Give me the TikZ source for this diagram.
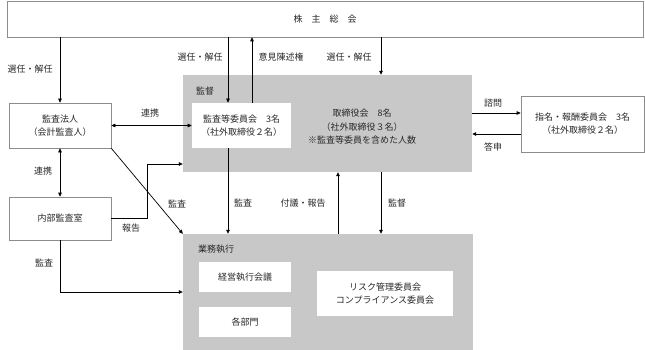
\documentclass[tikz,border=0pt]{standalone}
\usepackage{fontspec}
\setmainfont{Noto Sans CJK JP}
\usetikzlibrary{arrows.meta}
\definecolor{boxgray}{RGB}{200,200,200}
\definecolor{edgegray}{RGB}{140,140,140}
\definecolor{txt}{RGB}{40,40,40}
\tikzset{
  wbox/.style={draw=edgegray, line width=0.7pt, fill=white, inner sep=0pt, align=center, text=txt, font=\fontsize{9}{13}\selectfont},
  gbox/.style={fill=boxgray, draw=none, inner sep=0pt},
  lbl/.style={text=txt, font=\fontsize{9}{13}\selectfont, inner sep=0pt},
  arr/.style={draw=black, line width=0.7pt, -{Triangle[length=4pt,width=3.6pt]}},
  darr/.style={draw=black, line width=0.7pt, {Triangle[length=4pt,width=3.6pt]}-{Triangle[length=4pt,width=3.6pt]}},
  ln/.style={draw=black, line width=0.7pt}
}
\begin{document}
\begin{tikzpicture}[x=1pt,y=-1pt]
\useasboundingbox (0,0) rectangle (645,350);
% gray areas
\node[gbox, minimum width=289pt, minimum height=97pt] (board) at (327.5,123.5) {};
\node[gbox, minimum width=290pt, minimum height=116pt] (gyomu) at (328,292) {};
% boxes
\node[wbox, minimum width=636pt, minimum height=36pt] (top) at (325,19) {株　主　総　会};
\node[wbox, minimum width=102pt, minimum height=45pt] (hojin) at (60,125.5) {監査法人\\（会計監査人）};
\node[wbox, minimum width=102pt, minimum height=43pt] (naibu) at (60,218.5) {内部監査室};
\node[wbox, draw=none, minimum width=99pt, minimum height=45pt] (kansa) at (241.5,125.5) {監査等委員会　3名\\（社外取締役２名）};
\node[wbox, minimum width=123pt, minimum height=56pt] (shimei) at (582.5,124) {指名・報酬委員会　3名\\（社外取締役２名）};
\node[wbox, draw=none, minimum width=92pt, minimum height=30pt] (keiei) at (245,277) {経営執行会議};
\node[wbox, draw=none, minimum width=92pt, minimum height=30pt] (kakubu) at (245,322) {各部門};
\node[wbox, draw=none, minimum width=136pt, minimum height=45pt] (risk) at (385,293.5) {リスク管理委員会\\コンプライアンス委員会};
% texts inside gray areas
\node[lbl, align=center, font=\fontsize{9}{13.5}\selectfont] (boardtxt) at (362,127) {取締役会　8名\\（社外取締役３名）\\※監査等委員を含めた人数};
\node[lbl, anchor=west] (kantoku) at (196,91) {監督};
\node[lbl, anchor=west] (gyomutxt) at (198,249) {業務執行};
% connectors
\draw[arr] (top.south -| hojin.north) -- (hojin.north);
\draw[arr] (228,0 |- top.south) -- (228,0 |- kansa.north);
\draw[arr] (252,0 |- kansa.north) -- (252,0 |- top.south);
\draw[arr] (381,0 |- top.south) -- (381,0 |- board.north);
\draw[arr] (board.east |- 0,113) -- (shimei.west |- 0,113);
\draw[arr] (shimei.west |- 0,134) -- (board.east |- 0,134);
\draw[darr] (hojin.east) -- (kansa.west);
\draw[darr] (hojin.south) -- (naibu.north);
\draw[arr] (hojin.south east) -- (gyomu.north west);
\draw[arr] (naibu.east) -- (147,0 |- naibu.east) -- (147,164) -- (board.west |- 0,164);
\draw[arr] (naibu.south) -- (60,292) -- (gyomu.west |- 0,292);
\draw[arr] (228,0 |- kansa.south) -- (228,0 |- gyomu.north);
\draw[arr] (338,0 |- gyomu.north) -- (338,0 |- board.south);
\draw[arr] (381,0 |- board.south) -- (381,0 |- gyomu.north);
% labels
\node[lbl] (l1) at (30,69) {選任・解任};
\node[lbl] (l2) at (200,57) {選任・解任};
\node[lbl] (l3) at (281,57) {意見陳述権};
\node[lbl] (l4) at (349,57) {選任・解任};
\node[lbl] (l5) at (493,103) {諮問};
\node[lbl] (l6) at (493,147) {答申};
\node[lbl] (l7) at (150,113) {連携};
\node[lbl] (l8) at (43,171) {連携};
\node[lbl] (l9) at (177,204) {監査};
\node[lbl] (l10) at (131,228) {報告};
\node[lbl] (l11) at (243,203) {監査};
\node[lbl] (l12) at (303,203) {付議・報告};
\node[lbl] (l13) at (397,203) {監督};
\node[lbl] (l14) at (44,263) {監査};
\end{tikzpicture}
\end{document}
